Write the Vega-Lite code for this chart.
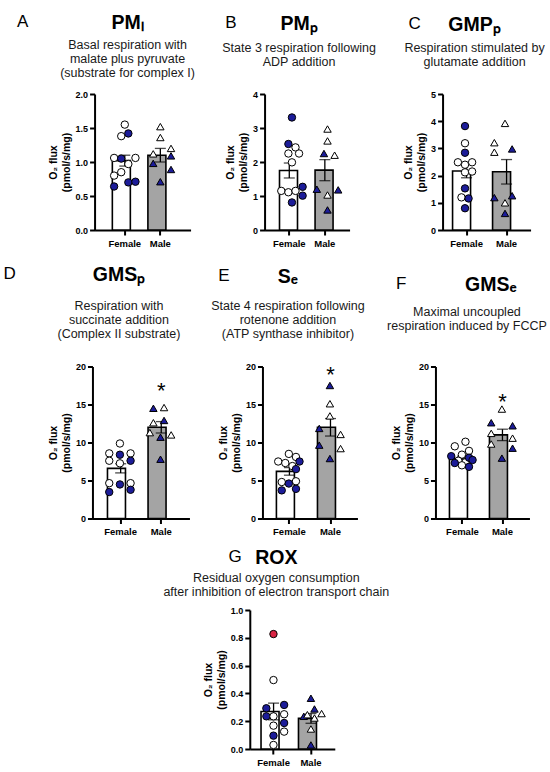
{
  "$schema": "https://vega.github.io/schema/vega-lite/v6.json",
  "background": "white",
  "padding": {"left": 3, "top": 13, "right": 0, "bottom": 0},
  "datasets": {
    "summary": [
      {"panel": "A", "sex": "Female", "mean": 1.02, "sem": 0.08},
      {"panel": "A", "sex": "Male", "mean": 1.10, "sem": 0.10},
      {"panel": "B", "sex": "Female", "mean": 1.75, "sem": 0.22},
      {"panel": "B", "sex": "Male", "mean": 1.76, "sem": 0.31},
      {"panel": "C", "sex": "Female", "mean": 2.17, "sem": 0.25},
      {"panel": "C", "sex": "Male", "mean": 2.14, "sem": 0.45},
      {"panel": "D", "sex": "Female", "mean": 6.6, "sem": 0.6},
      {"panel": "D", "sex": "Male", "mean": 12.0, "sem": 0.75, "star": 16.8},
      {"panel": "E", "sex": "Female", "mean": 6.2, "sem": 0.5},
      {"panel": "E", "sex": "Male", "mean": 12.0, "sem": 1.15, "star": 18.9},
      {"panel": "F", "sex": "Female", "mean": 7.9, "sem": 0.3},
      {"panel": "F", "sex": "Male", "mean": 11.0, "sem": 0.75, "star": 15.3},
      {"panel": "G", "sex": "Female", "mean": 0.27, "sem": 0.06},
      {"panel": "G", "sex": "Male", "mean": 0.22, "sem": 0.035}
    ],
    "points": [
      {"panel": "A", "sex": "Female", "value": 1.55, "marker": "open", "lane": 4},
      {"panel": "A", "sex": "Female", "value": 1.42, "marker": "filled", "lane": 5},
      {"panel": "A", "sex": "Female", "value": 1.38, "marker": "open", "lane": 3},
      {"panel": "A", "sex": "Female", "value": 1.06, "marker": "open", "lane": 1},
      {"panel": "A", "sex": "Female", "value": 1.05, "marker": "filled", "lane": 3},
      {"panel": "A", "sex": "Female", "value": 1.06, "marker": "open", "lane": 7},
      {"panel": "A", "sex": "Female", "value": 0.97, "marker": "open", "lane": 5},
      {"panel": "A", "sex": "Female", "value": 0.85, "marker": "open", "lane": 3},
      {"panel": "A", "sex": "Female", "value": 0.80, "marker": "open", "lane": 1},
      {"panel": "A", "sex": "Female", "value": 0.64, "marker": "filled", "lane": 1},
      {"panel": "A", "sex": "Female", "value": 0.70, "marker": "filled", "lane": 5},
      {"panel": "A", "sex": "Female", "value": 0.71, "marker": "filled", "lane": 7},
      {"panel": "A", "sex": "Male", "value": 1.52, "marker": "open", "lane": 4},
      {"panel": "A", "sex": "Male", "value": 1.36, "marker": "open", "lane": 4},
      {"panel": "A", "sex": "Male", "value": 1.20, "marker": "open", "lane": 7},
      {"panel": "A", "sex": "Male", "value": 1.12, "marker": "open", "lane": 2},
      {"panel": "A", "sex": "Male", "value": 1.09, "marker": "filled", "lane": 7},
      {"panel": "A", "sex": "Male", "value": 0.98, "marker": "filled", "lane": 2},
      {"panel": "A", "sex": "Male", "value": 0.89, "marker": "filled", "lane": 7},
      {"panel": "A", "sex": "Male", "value": 0.71, "marker": "filled", "lane": 4},

      {"panel": "B", "sex": "Female", "value": 3.31, "marker": "filled", "lane": 4},
      {"panel": "B", "sex": "Female", "value": 2.53, "marker": "filled", "lane": 3},
      {"panel": "B", "sex": "Female", "value": 2.43, "marker": "open", "lane": 5},
      {"panel": "B", "sex": "Female", "value": 2.25, "marker": "open", "lane": 3},
      {"panel": "B", "sex": "Female", "value": 2.25, "marker": "open", "lane": 6},
      {"panel": "B", "sex": "Female", "value": 1.99, "marker": "open", "lane": 4},
      {"panel": "B", "sex": "Female", "value": 1.15, "marker": "open", "lane": 1},
      {"panel": "B", "sex": "Female", "value": 1.11, "marker": "open", "lane": 3},
      {"panel": "B", "sex": "Female", "value": 1.15, "marker": "open", "lane": 5},
      {"panel": "B", "sex": "Female", "value": 1.27, "marker": "filled", "lane": 7},
      {"panel": "B", "sex": "Female", "value": 1.01, "marker": "filled", "lane": 7},
      {"panel": "B", "sex": "Female", "value": 0.81, "marker": "filled", "lane": 4},
      {"panel": "B", "sex": "Male", "value": 2.97, "marker": "open", "lane": 4},
      {"panel": "B", "sex": "Male", "value": 2.62, "marker": "open", "lane": 4},
      {"panel": "B", "sex": "Male", "value": 2.25, "marker": "filled", "lane": 3},
      {"panel": "B", "sex": "Male", "value": 2.20, "marker": "open", "lane": 6},
      {"panel": "B", "sex": "Male", "value": 1.20, "marker": "filled", "lane": 1},
      {"panel": "B", "sex": "Male", "value": 1.18, "marker": "filled", "lane": 7},
      {"panel": "B", "sex": "Male", "value": 1.03, "marker": "open", "lane": 4},
      {"panel": "B", "sex": "Male", "value": 0.59, "marker": "filled", "lane": 4},

      {"panel": "C", "sex": "Female", "value": 3.82, "marker": "filled", "lane": 4},
      {"panel": "C", "sex": "Female", "value": 3.19, "marker": "open", "lane": 4},
      {"panel": "C", "sex": "Female", "value": 2.84, "marker": "filled", "lane": 4},
      {"panel": "C", "sex": "Female", "value": 2.49, "marker": "open", "lane": 2},
      {"panel": "C", "sex": "Female", "value": 2.40, "marker": "open", "lane": 4},
      {"panel": "C", "sex": "Female", "value": 2.49, "marker": "open", "lane": 6},
      {"panel": "C", "sex": "Female", "value": 2.12, "marker": "open", "lane": 4},
      {"panel": "C", "sex": "Female", "value": 2.15, "marker": "open", "lane": 6},
      {"panel": "C", "sex": "Female", "value": 1.53, "marker": "filled", "lane": 4},
      {"panel": "C", "sex": "Female", "value": 1.20, "marker": "open", "lane": 3},
      {"panel": "C", "sex": "Female", "value": 1.16, "marker": "filled", "lane": 5},
      {"panel": "C", "sex": "Female", "value": 0.80, "marker": "filled", "lane": 4},
      {"panel": "C", "sex": "Male", "value": 3.92, "marker": "open", "lane": 4},
      {"panel": "C", "sex": "Male", "value": 3.21, "marker": "open", "lane": 1},
      {"panel": "C", "sex": "Male", "value": 2.86, "marker": "open", "lane": 1},
      {"panel": "C", "sex": "Male", "value": 2.98, "marker": "filled", "lane": 6},
      {"panel": "C", "sex": "Male", "value": 1.19, "marker": "filled", "lane": 1},
      {"panel": "C", "sex": "Male", "value": 1.26, "marker": "filled", "lane": 6},
      {"panel": "C", "sex": "Male", "value": 1.00, "marker": "open", "lane": 4},
      {"panel": "C", "sex": "Male", "value": 0.61, "marker": "filled", "lane": 4},

      {"panel": "D", "sex": "Female", "value": 9.87, "marker": "open", "lane": 4},
      {"panel": "D", "sex": "Female", "value": 8.57, "marker": "open", "lane": 1},
      {"panel": "D", "sex": "Female", "value": 8.39, "marker": "filled", "lane": 4},
      {"panel": "D", "sex": "Female", "value": 8.57, "marker": "open", "lane": 7},
      {"panel": "D", "sex": "Female", "value": 7.6, "marker": "open", "lane": 1},
      {"panel": "D", "sex": "Female", "value": 7.26, "marker": "open", "lane": 4},
      {"panel": "D", "sex": "Female", "value": 7.6, "marker": "filled", "lane": 7},
      {"panel": "D", "sex": "Female", "value": 4.65, "marker": "open", "lane": 1},
      {"panel": "D", "sex": "Female", "value": 4.48, "marker": "filled", "lane": 4},
      {"panel": "D", "sex": "Female", "value": 4.65, "marker": "open", "lane": 7},
      {"panel": "D", "sex": "Female", "value": 3.48, "marker": "filled", "lane": 1},
      {"panel": "D", "sex": "Female", "value": 3.78, "marker": "filled", "lane": 7},
      {"panel": "D", "sex": "Male", "value": 14.5, "marker": "filled", "lane": 2},
      {"panel": "D", "sex": "Male", "value": 14.6, "marker": "open", "lane": 5},
      {"panel": "D", "sex": "Male", "value": 12.6, "marker": "open", "lane": 2},
      {"panel": "D", "sex": "Male", "value": 12.9, "marker": "filled", "lane": 5},
      {"panel": "D", "sex": "Male", "value": 11.3, "marker": "open", "lane": 1},
      {"panel": "D", "sex": "Male", "value": 10.7, "marker": "filled", "lane": 4},
      {"panel": "D", "sex": "Male", "value": 11.0, "marker": "open", "lane": 7},
      {"panel": "D", "sex": "Male", "value": 7.8, "marker": "filled", "lane": 4},

      {"panel": "E", "sex": "Female", "value": 8.5, "marker": "open", "lane": 4},
      {"panel": "E", "sex": "Female", "value": 8.1, "marker": "open", "lane": 6},
      {"panel": "E", "sex": "Female", "value": 7.5, "marker": "open", "lane": 1},
      {"panel": "E", "sex": "Female", "value": 7.3, "marker": "open", "lane": 3},
      {"panel": "E", "sex": "Female", "value": 7.5, "marker": "filled", "lane": 7},
      {"panel": "E", "sex": "Female", "value": 6.9, "marker": "open", "lane": 5},
      {"panel": "E", "sex": "Female", "value": 6.5, "marker": "filled", "lane": 6},
      {"panel": "E", "sex": "Female", "value": 4.9, "marker": "open", "lane": 6},
      {"panel": "E", "sex": "Female", "value": 4.8, "marker": "open", "lane": 2},
      {"panel": "E", "sex": "Female", "value": 4.6, "marker": "filled", "lane": 4},
      {"panel": "E", "sex": "Female", "value": 3.7, "marker": "filled", "lane": 2},
      {"panel": "E", "sex": "Female", "value": 3.9, "marker": "filled", "lane": 6},
      {"panel": "E", "sex": "Male", "value": 17.5, "marker": "filled", "lane": 4},
      {"panel": "E", "sex": "Male", "value": 15.1, "marker": "open", "lane": 4},
      {"panel": "E", "sex": "Male", "value": 13.5, "marker": "open", "lane": 4},
      {"panel": "E", "sex": "Male", "value": 11.85, "marker": "filled", "lane": 1},
      {"panel": "E", "sex": "Male", "value": 11.06, "marker": "open", "lane": 7},
      {"panel": "E", "sex": "Male", "value": 9.65, "marker": "filled", "lane": 1},
      {"panel": "E", "sex": "Male", "value": 9.2, "marker": "open", "lane": 7},
      {"panel": "E", "sex": "Male", "value": 7.89, "marker": "filled", "lane": 4},

      {"panel": "F", "sex": "Female", "value": 10.1, "marker": "open", "lane": 5},
      {"panel": "F", "sex": "Female", "value": 9.5, "marker": "open", "lane": 2},
      {"panel": "F", "sex": "Female", "value": 8.9, "marker": "open", "lane": 6},
      {"panel": "F", "sex": "Female", "value": 8.4, "marker": "open", "lane": 4},
      {"panel": "F", "sex": "Female", "value": 7.6, "marker": "open", "lane": 3},
      {"panel": "F", "sex": "Female", "value": 7.4, "marker": "open", "lane": 5},
      {"panel": "F", "sex": "Female", "value": 7.0, "marker": "open", "lane": 4},
      {"panel": "F", "sex": "Female", "value": 8.2, "marker": "filled", "lane": 1},
      {"panel": "F", "sex": "Female", "value": 8.0, "marker": "filled", "lane": 6},
      {"panel": "F", "sex": "Female", "value": 7.7, "marker": "filled", "lane": 7},
      {"panel": "F", "sex": "Female", "value": 7.3, "marker": "filled", "lane": 2},
      {"panel": "F", "sex": "Female", "value": 6.8, "marker": "filled", "lane": 6},
      {"panel": "F", "sex": "Male", "value": 14.4, "marker": "open", "lane": 4},
      {"panel": "F", "sex": "Male", "value": 12.6, "marker": "filled", "lane": 1},
      {"panel": "F", "sex": "Male", "value": 12.2, "marker": "filled", "lane": 7},
      {"panel": "F", "sex": "Male", "value": 11.2, "marker": "open", "lane": 1},
      {"panel": "F", "sex": "Male", "value": 10.57, "marker": "open", "lane": 7},
      {"panel": "F", "sex": "Male", "value": 9.8, "marker": "open", "lane": 1},
      {"panel": "F", "sex": "Male", "value": 9.25, "marker": "filled", "lane": 7},
      {"panel": "F", "sex": "Male", "value": 7.94, "marker": "filled", "lane": 4},

      {"panel": "G", "sex": "Female", "value": 0.827, "marker": "outlier", "lane": 4},
      {"panel": "G", "sex": "Female", "value": 0.496, "marker": "open", "lane": 4},
      {"panel": "G", "sex": "Female", "value": 0.293, "marker": "filled", "lane": 2},
      {"panel": "G", "sex": "Female", "value": 0.317, "marker": "filled", "lane": 7},
      {"panel": "G", "sex": "Female", "value": 0.235, "marker": "filled", "lane": 2},
      {"panel": "G", "sex": "Female", "value": 0.235, "marker": "open", "lane": 4},
      {"panel": "G", "sex": "Female", "value": 0.25, "marker": "open", "lane": 7},
      {"panel": "G", "sex": "Female", "value": 0.168, "marker": "open", "lane": 4},
      {"panel": "G", "sex": "Female", "value": 0.187, "marker": "filled", "lane": 7},
      {"panel": "G", "sex": "Female", "value": 0.125, "marker": "open", "lane": 7},
      {"panel": "G", "sex": "Female", "value": 0.096, "marker": "filled", "lane": 4},
      {"panel": "G", "sex": "Female", "value": 0.029, "marker": "open", "lane": 4},
      {"panel": "G", "sex": "Male", "value": 0.365, "marker": "filled", "lane": 4},
      {"panel": "G", "sex": "Male", "value": 0.288, "marker": "filled", "lane": 5},
      {"panel": "G", "sex": "Male", "value": 0.235, "marker": "filled", "lane": 2},
      {"panel": "G", "sex": "Male", "value": 0.247, "marker": "open", "lane": 3},
      {"panel": "G", "sex": "Male", "value": 0.255, "marker": "open", "lane": 7},
      {"panel": "G", "sex": "Male", "value": 0.223, "marker": "open", "lane": 5},
      {"panel": "G", "sex": "Male", "value": 0.144, "marker": "open", "lane": 4},
      {"panel": "G", "sex": "Male", "value": 0.029, "marker": "filled", "lane": 4}
    ]
  },
  "vconcat": [
    {
      "spacing": 16.5,
      "center": true,
      "vconcat": [
        {
          "spacing": 26,
          "hconcat": [
            {
              "title": {"text": "A", "anchor": "start", "frame": "bounds", "fontSize": 17, "fontWeight": "normal", "dx": -31, "dy": 22},
              "hconcat": [
                {
                  "width": 96, "height": 136,
                  "title": {"text": "PMₗ", "subtitle": ["Basal respiration with", "malate plus pyruvate", "(substrate for complex I)"], "dx": -15, "subtitlePadding": 5, "offset": 10},
                  "encoding": {"x": {"field": "sex", "type": "nominal", "scale": {"paddingInner": 0.3, "paddingOuter": 0.5}, "axis": {"title": null}}},
                  "layer": [
                    {"data": {"name": "summary"}, "transform": [{"filter": "datum.panel === 'A'"}],
                     "mark": {"type": "bar", "stroke": "black", "strokeWidth": 1.6},
                     "encoding": {"y": {"field": "mean", "type": "quantitative", "title": ["O₂ flux", "(pmol/s/mg)"], "scale": {"domain": [0, 2]}, "axis": {"values": [0, 0.5, 1, 1.5, 2], "format": ".1f"}},
                       "color": {"field": "sex", "type": "nominal", "scale": {"domain": ["Female", "Male"], "range": ["white", "#a4a4a4"]}, "legend": null}}},
                    {"data": {"name": "summary"}, "transform": [{"filter": "datum.panel === 'A'"}],
                     "mark": {"type": "errorbar", "ticks": {"size": 11}, "thickness": 1.3, "color": "black"},
                     "encoding": {"y": {"field": "mean", "type": "quantitative", "title": ["O₂ flux", "(pmol/s/mg)"], "axis": {"values": [0, 0.5, 1, 1.5, 2], "format": ".1f"}}, "yError": {"field": "sem"}}},
                    {"data": {"name": "points"}, "transform": [{"filter": "datum.panel === 'A'"}],
                     "mark": {"type": "point", "size": 55, "stroke": "black", "strokeWidth": 1, "opacity": 1},
                     "encoding": {"y": {"field": "value", "type": "quantitative", "title": ["O₂ flux", "(pmol/s/mg)"], "axis": {"values": [0, 0.5, 1, 1.5, 2], "format": ".1f"}},
                       "xOffset": {"field": "lane", "type": "ordinal", "scale": {"domain": [1, 2, 3, 4, 5, 6, 7]}},
                       "shape": {"field": "sex", "type": "nominal", "scale": {"domain": ["Female", "Male"], "range": ["circle", "triangle-up"]}, "legend": null},
                       "fill": {"field": "marker", "type": "nominal", "scale": {"domain": ["open", "filled", "outlier"], "range": ["white", "#1c1c99", "#d92443"]}, "legend": null}}}
                  ]
                }
              ]
            },
            {
              "title": {"text": "B", "anchor": "start", "frame": "bounds", "fontSize": 17, "fontWeight": "normal", "dx": 3, "dy": 22},
              "hconcat": [
                {
                  "width": 85, "height": 136,
                  "title": {"text": "PMₚ", "subtitle": ["State 3 respiration following", "ADP addition"], "dx": -8, "subtitlePadding": 7.8, "offset": 20.5},
                  "encoding": {"x": {"field": "sex", "type": "nominal", "scale": {"paddingInner": 0.45, "paddingOuter": 0.42}, "axis": {"title": null}}},
                  "layer": [
                    {"data": {"name": "summary"}, "transform": [{"filter": "datum.panel === 'B'"}],
                     "mark": {"type": "bar", "stroke": "black", "strokeWidth": 1.6},
                     "encoding": {"y": {"field": "mean", "type": "quantitative", "title": ["O₂ flux", "(pmol/s/mg)"], "scale": {"domain": [0, 4]}, "axis": {"values": [0, 1, 2, 3, 4], "format": "d"}},
                       "color": {"field": "sex", "type": "nominal", "scale": {"domain": ["Female", "Male"], "range": ["white", "#a4a4a4"]}, "legend": null}}},
                    {"data": {"name": "summary"}, "transform": [{"filter": "datum.panel === 'B'"}],
                     "mark": {"type": "errorbar", "ticks": {"size": 11}, "thickness": 1.3, "color": "black"},
                     "encoding": {"y": {"field": "mean", "type": "quantitative", "title": ["O₂ flux", "(pmol/s/mg)"], "axis": {"values": [0, 1, 2, 3, 4], "format": "d"}}, "yError": {"field": "sem"}}},
                    {"data": {"name": "points"}, "transform": [{"filter": "datum.panel === 'B'"}],
                     "mark": {"type": "point", "size": 55, "stroke": "black", "strokeWidth": 1, "opacity": 1},
                     "encoding": {"y": {"field": "value", "type": "quantitative", "title": ["O₂ flux", "(pmol/s/mg)"], "axis": {"values": [0, 1, 2, 3, 4], "format": "d"}},
                       "xOffset": {"field": "lane", "type": "ordinal", "scale": {"domain": [1, 2, 3, 4, 5, 6, 7]}},
                       "shape": {"field": "sex", "type": "nominal", "scale": {"domain": ["Female", "Male"], "range": ["circle", "triangle-up"]}, "legend": null},
                       "fill": {"field": "marker", "type": "nominal", "scale": {"domain": ["open", "filled", "outlier"], "range": ["white", "#1c1c99", "#d92443"]}, "legend": null}}}
                  ]
                }
              ]
            },
            {
              "title": {"text": "C", "anchor": "start", "frame": "bounds", "fontSize": 17, "fontWeight": "normal", "dx": 5, "dy": 22},
              "hconcat": [
                {
                  "width": 88, "height": 136,
                  "title": {"text": "GMPₚ", "subtitle": ["Respiration stimulated by", "glutamate addition"], "dx": -12, "subtitlePadding": 6.3, "offset": 20.5},
                  "encoding": {"x": {"field": "sex", "type": "nominal", "scale": {"paddingInner": 0.3, "paddingOuter": 0.25}, "axis": {"title": null}}},
                  "layer": [
                    {"data": {"name": "summary"}, "transform": [{"filter": "datum.panel === 'C'"}],
                     "mark": {"type": "bar", "stroke": "black", "strokeWidth": 1.6},
                     "encoding": {"y": {"field": "mean", "type": "quantitative", "title": ["O₂ flux", "(pmol/s/mg)"], "scale": {"domain": [0, 5]}, "axis": {"values": [0, 1, 2, 3, 4, 5], "format": "d"}},
                       "color": {"field": "sex", "type": "nominal", "scale": {"domain": ["Female", "Male"], "range": ["white", "#a4a4a4"]}, "legend": null}}},
                    {"data": {"name": "summary"}, "transform": [{"filter": "datum.panel === 'C'"}],
                     "mark": {"type": "errorbar", "ticks": {"size": 11}, "thickness": 1.3, "color": "black"},
                     "encoding": {"y": {"field": "mean", "type": "quantitative", "title": ["O₂ flux", "(pmol/s/mg)"], "axis": {"values": [0, 1, 2, 3, 4, 5], "format": "d"}}, "yError": {"field": "sem"}}},
                    {"data": {"name": "points"}, "transform": [{"filter": "datum.panel === 'C'"}],
                     "mark": {"type": "point", "size": 55, "stroke": "black", "strokeWidth": 1, "opacity": 1},
                     "encoding": {"y": {"field": "value", "type": "quantitative", "title": ["O₂ flux", "(pmol/s/mg)"], "axis": {"values": [0, 1, 2, 3, 4, 5], "format": "d"}},
                       "xOffset": {"field": "lane", "type": "ordinal", "scale": {"domain": [1, 2, 3, 4, 5, 6, 7]}},
                       "shape": {"field": "sex", "type": "nominal", "scale": {"domain": ["Female", "Male"], "range": ["circle", "triangle-up"]}, "legend": null},
                       "fill": {"field": "marker", "type": "nominal", "scale": {"domain": ["open", "filled", "outlier"], "range": ["white", "#1c1c99", "#d92443"]}, "legend": null}}}
                  ]
                }
              ]
            }
          ]
        },
        {
          "spacing": 21,
          "hconcat": [
            {
              "title": {"text": "D", "anchor": "start", "frame": "bounds", "fontSize": 17, "fontWeight": "normal", "dx": -45, "dy": 22},
              "hconcat": [
                {
                  "width": 97, "height": 152,
                  "title": {"text": "GMSₚ", "subtitle": ["Respiration with", "succinate addition", "(Complex II substrate)"], "dx": -22, "subtitlePadding": 14.5, "offset": 21.5},
                  "encoding": {"x": {"field": "sex", "type": "nominal", "scale": {"paddingInner": 0.35, "paddingOuter": 0.37}, "axis": {"title": null}}},
                  "layer": [
                    {"data": {"name": "summary"}, "transform": [{"filter": "datum.panel === 'D'"}],
                     "mark": {"type": "bar", "stroke": "black", "strokeWidth": 1.6},
                     "encoding": {"y": {"field": "mean", "type": "quantitative", "title": ["O₂ flux", "(pmol/s/mg)"], "scale": {"domain": [0, 20]}, "axis": {"values": [0, 5, 10, 15, 20], "format": "d"}},
                       "color": {"field": "sex", "type": "nominal", "scale": {"domain": ["Female", "Male"], "range": ["white", "#a4a4a4"]}, "legend": null}}},
                    {"data": {"name": "summary"}, "transform": [{"filter": "datum.panel === 'D'"}],
                     "mark": {"type": "errorbar", "ticks": {"size": 11}, "thickness": 1.3, "color": "black"},
                     "encoding": {"y": {"field": "mean", "type": "quantitative", "title": ["O₂ flux", "(pmol/s/mg)"], "axis": {"values": [0, 5, 10, 15, 20], "format": "d"}}, "yError": {"field": "sem"}}},
                    {"data": {"name": "points"}, "transform": [{"filter": "datum.panel === 'D'"}],
                     "mark": {"type": "point", "size": 55, "stroke": "black", "strokeWidth": 1, "opacity": 1},
                     "encoding": {"y": {"field": "value", "type": "quantitative", "title": ["O₂ flux", "(pmol/s/mg)"], "axis": {"values": [0, 5, 10, 15, 20], "format": "d"}},
                       "xOffset": {"field": "lane", "type": "ordinal", "scale": {"domain": [1, 2, 3, 4, 5, 6, 7]}},
                       "shape": {"field": "sex", "type": "nominal", "scale": {"domain": ["Female", "Male"], "range": ["circle", "triangle-up"]}, "legend": null},
                       "fill": {"field": "marker", "type": "nominal", "scale": {"domain": ["open", "filled", "outlier"], "range": ["white", "#1c1c99", "#d92443"]}, "legend": null}}},
                    {"data": {"name": "summary"}, "transform": [{"filter": "datum.panel === 'D' && isValid(datum.star)"}],
                     "mark": {"type": "text", "text": "*", "fontSize": 22, "baseline": "middle", "color": "black"},
                     "encoding": {"y": {"field": "star", "type": "quantitative", "title": ["O₂ flux", "(pmol/s/mg)"], "axis": {"values": [0, 5, 10, 15, 20], "format": "d"}}}}
                  ]
                }
              ]
            },
            {
              "title": {"text": "E", "anchor": "start", "frame": "bounds", "fontSize": 17, "fontWeight": "normal", "dx": 7, "dy": 22},
              "hconcat": [
                {
                  "width": 95, "height": 152,
                  "title": {"text": "Sₑ", "subtitle": ["State 4 respiration following", "rotenone addition", "(ATP synthase inhibitor)"], "dx": -22, "subtitlePadding": 12.2, "offset": 21.5},
                  "encoding": {"x": {"field": "sex", "type": "nominal", "scale": {"paddingInner": 0.366, "paddingOuter": 0.34}, "axis": {"title": null}}},
                  "layer": [
                    {"data": {"name": "summary"}, "transform": [{"filter": "datum.panel === 'E'"}],
                     "mark": {"type": "bar", "stroke": "black", "strokeWidth": 1.6},
                     "encoding": {"y": {"field": "mean", "type": "quantitative", "title": ["O₂ flux", "(pmol/s/mg)"], "scale": {"domain": [0, 20]}, "axis": {"values": [0, 5, 10, 15, 20], "format": "d"}},
                       "color": {"field": "sex", "type": "nominal", "scale": {"domain": ["Female", "Male"], "range": ["white", "#a4a4a4"]}, "legend": null}}},
                    {"data": {"name": "summary"}, "transform": [{"filter": "datum.panel === 'E'"}],
                     "mark": {"type": "errorbar", "ticks": {"size": 11}, "thickness": 1.3, "color": "black"},
                     "encoding": {"y": {"field": "mean", "type": "quantitative", "title": ["O₂ flux", "(pmol/s/mg)"], "axis": {"values": [0, 5, 10, 15, 20], "format": "d"}}, "yError": {"field": "sem"}}},
                    {"data": {"name": "points"}, "transform": [{"filter": "datum.panel === 'E'"}],
                     "mark": {"type": "point", "size": 55, "stroke": "black", "strokeWidth": 1, "opacity": 1},
                     "encoding": {"y": {"field": "value", "type": "quantitative", "title": ["O₂ flux", "(pmol/s/mg)"], "axis": {"values": [0, 5, 10, 15, 20], "format": "d"}},
                       "xOffset": {"field": "lane", "type": "ordinal", "scale": {"domain": [1, 2, 3, 4, 5, 6, 7]}},
                       "shape": {"field": "sex", "type": "nominal", "scale": {"domain": ["Female", "Male"], "range": ["circle", "triangle-up"]}, "legend": null},
                       "fill": {"field": "marker", "type": "nominal", "scale": {"domain": ["open", "filled", "outlier"], "range": ["white", "#1c1c99", "#d92443"]}, "legend": null}}},
                    {"data": {"name": "summary"}, "transform": [{"filter": "datum.panel === 'E' && isValid(datum.star)"}],
                     "mark": {"type": "text", "text": "*", "fontSize": 22, "baseline": "middle", "color": "black"},
                     "encoding": {"y": {"field": "star", "type": "quantitative", "title": ["O₂ flux", "(pmol/s/mg)"], "axis": {"values": [0, 5, 10, 15, 20], "format": "d"}}}}
                  ]
                }
              ]
            },
            {
              "title": {"text": "F", "anchor": "start", "frame": "bounds", "fontSize": 17, "fontWeight": "normal", "dx": 9, "dy": 22},
              "hconcat": [
                {
                  "title": {"text": "GMSₑ", "anchor": "middle", "frame": "bounds", "dx": 24, "offset": 10.5},
                  "hconcat": [
                    {
                      "width": 94, "height": 152,
                      "title": {"text": ["Maximal uncoupled", "respiration induced by FCCP"], "fontSize": 12.5, "fontWeight": "normal", "lineHeight": 14, "color": "#1a1a1a", "dx": -15.5, "offset": 30.5},
                      "encoding": {"x": {"field": "sex", "type": "nominal", "scale": {"paddingInner": 0.35, "paddingOuter": 0.35}, "axis": {"title": null}}},
                      "layer": [
                        {"data": {"name": "summary"}, "transform": [{"filter": "datum.panel === 'F'"}],
                         "mark": {"type": "bar", "stroke": "black", "strokeWidth": 1.6},
                         "encoding": {"y": {"field": "mean", "type": "quantitative", "title": ["O₂ flux", "(pmol/s/mg)"], "scale": {"domain": [0, 20]}, "axis": {"values": [0, 5, 10, 15, 20], "format": "d"}},
                           "color": {"field": "sex", "type": "nominal", "scale": {"domain": ["Female", "Male"], "range": ["white", "#a4a4a4"]}, "legend": null}}},
                        {"data": {"name": "summary"}, "transform": [{"filter": "datum.panel === 'F'"}],
                         "mark": {"type": "errorbar", "ticks": {"size": 11}, "thickness": 1.3, "color": "black"},
                         "encoding": {"y": {"field": "mean", "type": "quantitative", "title": ["O₂ flux", "(pmol/s/mg)"], "axis": {"values": [0, 5, 10, 15, 20], "format": "d"}}, "yError": {"field": "sem"}}},
                        {"data": {"name": "points"}, "transform": [{"filter": "datum.panel === 'F'"}],
                         "mark": {"type": "point", "size": 55, "stroke": "black", "strokeWidth": 1, "opacity": 1},
                         "encoding": {"y": {"field": "value", "type": "quantitative", "title": ["O₂ flux", "(pmol/s/mg)"], "axis": {"values": [0, 5, 10, 15, 20], "format": "d"}},
                           "xOffset": {"field": "lane", "type": "ordinal", "scale": {"domain": [1, 2, 3, 4, 5, 6, 7]}},
                           "shape": {"field": "sex", "type": "nominal", "scale": {"domain": ["Female", "Male"], "range": ["circle", "triangle-up"]}, "legend": null},
                           "fill": {"field": "marker", "type": "nominal", "scale": {"domain": ["open", "filled", "outlier"], "range": ["white", "#1c1c99", "#d92443"]}, "legend": null}}},
                        {"data": {"name": "summary"}, "transform": [{"filter": "datum.panel === 'F' && isValid(datum.star)"}],
                         "mark": {"type": "text", "text": "*", "fontSize": 22, "baseline": "middle", "color": "black"},
                         "encoding": {"y": {"field": "star", "type": "quantitative", "title": ["O₂ flux", "(pmol/s/mg)"], "axis": {"values": [0, 5, 10, 15, 20], "format": "d"}}}}
                      ]
                    }
                  ]
                }
              ]
            }
          ]
        }
      ]
    },
    {
      "title": {"text": "G", "anchor": "start", "frame": "bounds", "fontSize": 17, "fontWeight": "normal", "dx": 65, "dy": 22},
      "hconcat": [
        {
          "width": 85, "height": 139,
          "title": {"text": "ROX", "subtitle": ["Residual oxygen consumption", "after inhibition of electron transport chain"], "dx": -16, "subtitlePadding": 3, "offset": 7},
          "encoding": {"x": {"field": "sex", "type": "nominal", "scale": {"paddingInner": 0.33, "paddingOuter": 0.3}, "axis": {"title": null}}},
          "layer": [
            {"data": {"name": "summary"}, "transform": [{"filter": "datum.panel === 'G'"}],
             "mark": {"type": "bar", "stroke": "black", "strokeWidth": 1.6},
             "encoding": {"y": {"field": "mean", "type": "quantitative", "title": ["O₂ flux", "(pmol/s/mg)"], "scale": {"domain": [0, 1]}, "axis": {"values": [0, 0.2, 0.4, 0.6, 0.8, 1], "format": ".1f"}},
               "color": {"field": "sex", "type": "nominal", "scale": {"domain": ["Female", "Male"], "range": ["white", "#a4a4a4"]}, "legend": null}}},
            {"data": {"name": "summary"}, "transform": [{"filter": "datum.panel === 'G'"}],
             "mark": {"type": "errorbar", "ticks": {"size": 11}, "thickness": 1.3, "color": "black"},
             "encoding": {"y": {"field": "mean", "type": "quantitative", "title": ["O₂ flux", "(pmol/s/mg)"], "axis": {"values": [0, 0.2, 0.4, 0.6, 0.8, 1], "format": ".1f"}}, "yError": {"field": "sem"}}},
            {"data": {"name": "points"}, "transform": [{"filter": "datum.panel === 'G'"}],
             "mark": {"type": "point", "size": 55, "stroke": "black", "strokeWidth": 1, "opacity": 1},
             "encoding": {"y": {"field": "value", "type": "quantitative", "title": ["O₂ flux", "(pmol/s/mg)"], "axis": {"values": [0, 0.2, 0.4, 0.6, 0.8, 1], "format": ".1f"}},
               "xOffset": {"field": "lane", "type": "ordinal", "scale": {"domain": [1, 2, 3, 4, 5, 6, 7]}},
               "shape": {"field": "sex", "type": "nominal", "scale": {"domain": ["Female", "Male"], "range": ["circle", "triangle-up"]}, "legend": null},
               "fill": {"field": "marker", "type": "nominal", "scale": {"domain": ["open", "filled", "outlier"], "range": ["white", "#1c1c99", "#d92443"]}, "legend": null}}}
          ]
        }
      ]
    }
  ],
  "spacing": 12,
  "center": true,
  "config": {
    "font": "Liberation Sans",
    "view": {"stroke": null},
    "concat": {"spacing": 30},
    "title": {"fontSize": 19.5, "fontWeight": "bold", "color": "black", "subtitleFontSize": 12.5, "subtitleColor": "#1a1a1a", "subtitleLineHeight": 14, "frame": "group"},
    "axis": {"grid": false, "domainColor": "black", "domainWidth": 2, "tickColor": "black", "tickWidth": 2, "tickSize": 5, "labelColor": "black", "labelFontWeight": "bold", "labelFontSize": 9, "labelPadding": 2, "labelOverlap": false, "titleColor": "black", "titleFontWeight": "bold", "titleFontSize": 10.5, "titleLineHeight": 13, "titlePadding": 4},
    "axisX": {"labelAngle": 0, "labelPadding": 3, "labelFontSize": 9.5}
  }
}
